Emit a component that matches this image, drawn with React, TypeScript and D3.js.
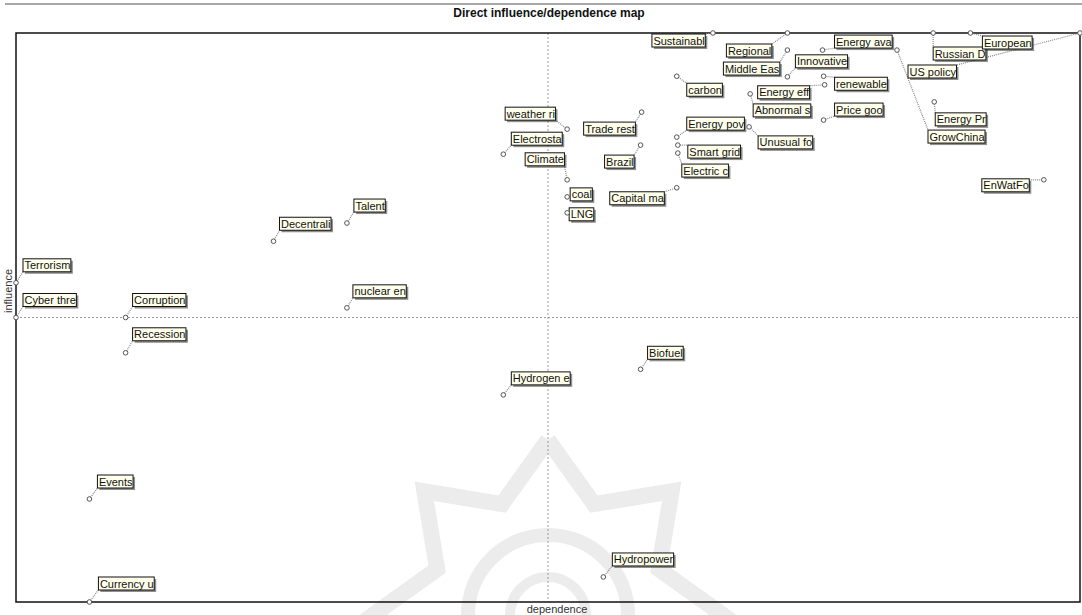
import React, { useEffect, useRef } from "react";
import * as d3 from "d3";

// factor names as shown (truncated in the original map)
const factors = [
  "Sustainabl", "Regional", "Middle Eas", "Innovative", "Energy ava", "renewable",
  "Energy eff", "Abnormal s", "Price goo", "carbon", "GrowChina", "Russian D",
  "European", "US policy", "Energy Pr", "EnWatFo", "weather ri", "Trade rest",
  "Electrosta", "Climate", "Brazil", "Energy pov", "Smart grid", "Electric c",
  "Unusual fo", "coal", "LNG", "Capital ma", "Talent", "Decentrali",
  "Terrorism", "Cyber thre", "Corruption", "Recession", "nuclear en", "Biofuel",
  "Hydrogen e", "Events", "Currency u", "Hydropower",
];

const dependence = [
  65.5, 72.5, 72.5, 72.5, 75.8, 75.9,
  76.0, 69.0, 75.9, 62.1, 82.8, 86.2,
  89.7, 100, 86.3, 96.6, 51.8, 58.8,
  45.8, 51.8, 58.7, 62.1, 62.2, 62.2,
  68.9, 51.8, 51.8, 62.1, 31.1, 24.2,
  0, 0, 10.3, 10.3, 31.1, 58.7,
  45.8, 6.9, 6.9, 55.2,
];

const influence = [
  100, 100, 97.0, 92.3, 97.0, 92.4,
  90.9, 89.3, 84.7, 92.4, 97.0, 100,
  100, 100, 87.9, 74.2, 83.1, 86.1,
  78.7, 74.2, 80.3, 81.7, 80.3, 78.9,
  83.5, 71.2, 68.4, 72.8, 66.6, 63.4,
  56.1, 50, 50, 43.8, 51.7, 40.9,
  36.4, 18.1, 0, 4.4,
];

// label box offsets from the point (px)
const labelDx = [
  -61, -61, -64, 8, 12, 11,
  -67, 3, 11, 10, 31, 0,
  12, -172, 1, -62, -62, -58,
  8, -42, -36, 10, 10, 4,
  9, 3, 2, -67, 7, 6,
  7, 7, 7, 7, 6, 7,
  8, 8, 9, 9,
];
const labelDy = [
  1, 11, 12, -22, -15, 1,
  1, 10, -17, 7, 80, 14,
  3, 32, 11, -1, -22, 10,
  -22, -27, 10, -20, 0, 11,
  9, -9, -5, 4, -24, -24,
  -24, -24, -24, -25, -23, -23,
  -23, -24, -25, -24,
];

const W = 1082;
const H = 615;
const FONT = "Arial, 'Liberation Sans', sans-serif";

export default function App() {
  const ref = useRef<SVGSVGElement>(null);

  useEffect(() => {
    const svg = d3.select(ref.current);
    svg.selectAll("*").remove();

    const x = d3.scaleLinear().domain([0, 100]).range([16, 1080]);
    const y = d3.scaleLinear().domain([0, 100]).range([602, 33]);

    // faint watermark behind the plot (page decoration)
    const wm = svg.append("g")
      .attr("transform", "translate(548,615)")
      .attr("fill", "none")
      .attr("stroke", "#ececec");
    const starPts: [number, number][] = d3.range(17).map((i) => {
      const a = (i * Math.PI) / 8 - Math.PI / 2;
      const r = i % 2 === 0 ? 175 : 120;
      return [r * Math.cos(a), r * Math.sin(a)];
    });
    wm.append("path").attr("d", d3.line()(starPts)).attr("stroke-width", 16);
    wm.append("circle").attr("r", 80).attr("stroke-width", 14);
    wm.append("circle").attr("r", 38).attr("stroke-width", 10);

    svg.append("line")
      .attr("x1", 5).attr("x2", W).attr("y1", 4).attr("y2", 4)
      .attr("stroke", "#8a8a8a").attr("stroke-width", 1.5);

    svg.append("text")
      .attr("x", 549).attr("y", 17)
      .attr("text-anchor", "middle")
      .attr("font-family", FONT)
      .attr("font-weight", "bold")
      .attr("font-size", 12)
      .attr("fill", "#111")
      .text("Direct influence/dependence map");

    // quadrant lines
    svg.append("line")
      .attr("x1", x(50)).attr("x2", x(50)).attr("y1", y(100)).attr("y2", y(0))
      .attr("stroke", "#999").attr("stroke-dasharray", "2,2");
    svg.append("line")
      .attr("x1", x(0)).attr("x2", x(100)).attr("y1", y(50)).attr("y2", y(50))
      .attr("stroke", "#999").attr("stroke-dasharray", "2,2");

    // frame
    svg.append("rect")
      .attr("x", x(0)).attr("y", y(100))
      .attr("width", x(100) - x(0)).attr("height", y(0) - y(100))
      .attr("fill", "none").attr("stroke", "#111").attr("stroke-width", 1.5);

    svg.append("text")
      .attr("transform", `translate(12,291) rotate(-90)`)
      .attr("text-anchor", "middle")
      .attr("font-family", FONT)
      .attr("font-size", 11).attr("fill", "#333")
      .text("influence");
    svg.append("text")
      .attr("x", 557).attr("y", 613)
      .attr("text-anchor", "middle")
      .attr("font-family", FONT)
      .attr("font-size", 11).attr("fill", "#333")
      .text("dependence");

    const data = factors.map((name, i) => ({
      name,
      px: x(dependence[i]),
      py: y(influence[i]),
      bx: x(dependence[i]) + labelDx[i],
      by: y(influence[i]) + labelDy[i],
    }));

    const leaders = svg.append("g");
    const labels = svg.append("g");
    const points = svg.append("g");

    data.forEach((d) => {
      const g = labels.append("g");
      const t = g.append("text")
        .attr("x", d.bx + 1.5).attr("y", d.by + 10.5)
        .attr("font-family", FONT)
        .attr("font-size", 11).attr("fill", "#111")
        .text(d.name);
      const w = (t.node() as SVGTextElement).getComputedTextLength() + 2;
      const h = 13;
      g.insert("rect", "text")
        .attr("x", d.bx + 2).attr("y", d.by + 2).attr("width", w).attr("height", h)
        .attr("fill", "#444").attr("opacity", 0.6);
      g.insert("rect", "text")
        .attr("x", d.bx).attr("y", d.by).attr("width", w).attr("height", h)
        .attr("fill", "#ffffec").attr("stroke", "#111").attr("stroke-width", 1);

      const cx = Math.max(d.bx, Math.min(d.bx + w, d.px));
      const cy = Math.max(d.by, Math.min(d.by + h, d.py));
      leaders.append("line")
        .attr("x1", d.px).attr("y1", d.py).attr("x2", cx).attr("y2", cy)
        .attr("stroke", "#888").attr("stroke-width", 1.2).attr("stroke-dasharray", "1,1");
    });

    points.selectAll("circle")
      .data(data)
      .enter()
      .append("circle")
      .attr("cx", (d) => d.px)
      .attr("cy", (d) => d.py)
      .attr("r", 2.3)
      .attr("fill", "#fff")
      .attr("stroke", "#555")
      .attr("stroke-width", 1);
  }, []);

  return (
    <svg
      ref={ref}
      width={W}
      height={H}
      style={{ position: "absolute", left: 0, top: 0, background: "#fff" }}
    ></svg>
  );
}
